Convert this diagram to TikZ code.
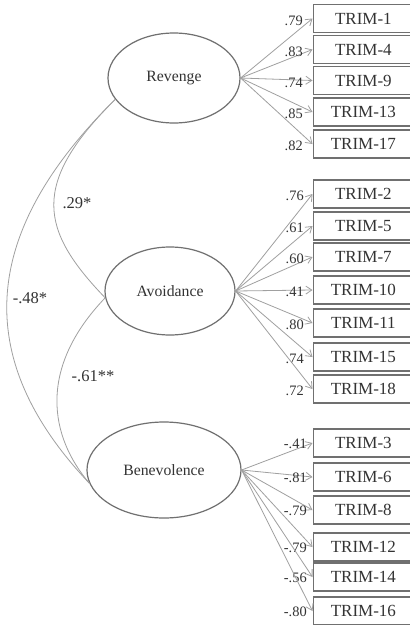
\documentclass[tikz,border=0pt]{standalone}
\usepackage{fontspec}
\setmainfont{Liberation Serif}
\usetikzlibrary{shapes.geometric,arrows.meta}
\definecolor{linegray}{HTML}{A0A0A0}
\definecolor{edgegray}{HTML}{707070}
\definecolor{txt}{HTML}{333333}
\begin{document}
\begin{tikzpicture}[x=0.75pt,y=-0.75pt,
 latent/.style={ellipse,draw=edgegray,line width=0.9pt,inner sep=0pt,text=txt,font=\fontsize{11.8}{14}\selectfont},
 item/.style={rectangle,draw=edgegray,line width=1.3pt,fill=white,minimum width=75pt,minimum height=21pt,anchor=west,inner sep=0pt,text=txt,font=\fontsize{12.75}{15}\selectfont},
 load/.style={draw=linegray,line width=0.6pt,-{Straight Barb[length=4.5pt,width=6pt]}},
 ldlab/.style={anchor=east,inner sep=0pt,text=txt,font=\fontsize{10.8}{13}\selectfont},
 corr/.style={draw=linegray,line width=0.6pt},
 crlab/.style={inner sep=0pt,text=txt,font=\fontsize{12.4}{15}\selectfont}]
\useasboundingbox (0,0) rectangle (410,625);
\clip (0,0) rectangle (410,625);
\fill[white] (0,0) rectangle (410,625);

% latent variables
\node[latent,minimum width=99pt,minimum height=67.5pt] (R) at (174,78) {Revenge};
\node[latent,minimum width=97.5pt,minimum height=66pt] (A) at (170,291) {Avoidance};
\node[latent,minimum width=115.5pt,minimum height=72pt] (B) at (164,470) {Benevolence};

% Revenge items
\foreach \n/\y/\l in {1/18.5/.79, 4/49.5/.83, 9/80.5/.74, 13/112/.85, 17/144/.82}{
  \node[item] (t\n) at (312.5,\y) {TRIM-\n};
  \draw[load] (R.east) -- (t\n.west);
  \node[ldlab] at (303,\y+2) {\l};
}
% Avoidance items
\foreach \n/\y/\l in {2/194/.76, 5/226/.61, 7/257/.60, 10/290/.41, 11/323/.80, 15/357/.74, 18/389/.72}{
  \node[item] (t\n) at (312.5,\y) {TRIM-\n};
  \draw[load] (A.east) -- (t\n.west);
  \node[ldlab] at (304,\y+2) {\l};
}
% Benevolence items
\foreach \n/\y/\l in {3/443/-.41, 6/477/-.81, 8/510/-.79, 12/547/-.79, 14/577/-.56, 16/611/-.80}{
  \node[item] (t\n) at (312.5,\y) {TRIM-\n};
  \draw[load] (B.east) -- (t\n.west);
  \node[ldlab] at (307,\y+1) {\l};
}

% correlations
\draw[corr] (R.200) .. controls (30,184) and (40,230) .. (A.186);
\draw[corr] (R.200) .. controls (-13.5,226.5) and (-34.5,352.5) .. (B.190);
\draw[corr] (A.186) .. controls (37,369) and (50,437) .. (B.190);

\node[crlab] at (77,203) {.29*};
\node[crlab] at (30,298) {-.48*};
\node[crlab] at (93,376) {-.61**};
\end{tikzpicture}
\end{document}
